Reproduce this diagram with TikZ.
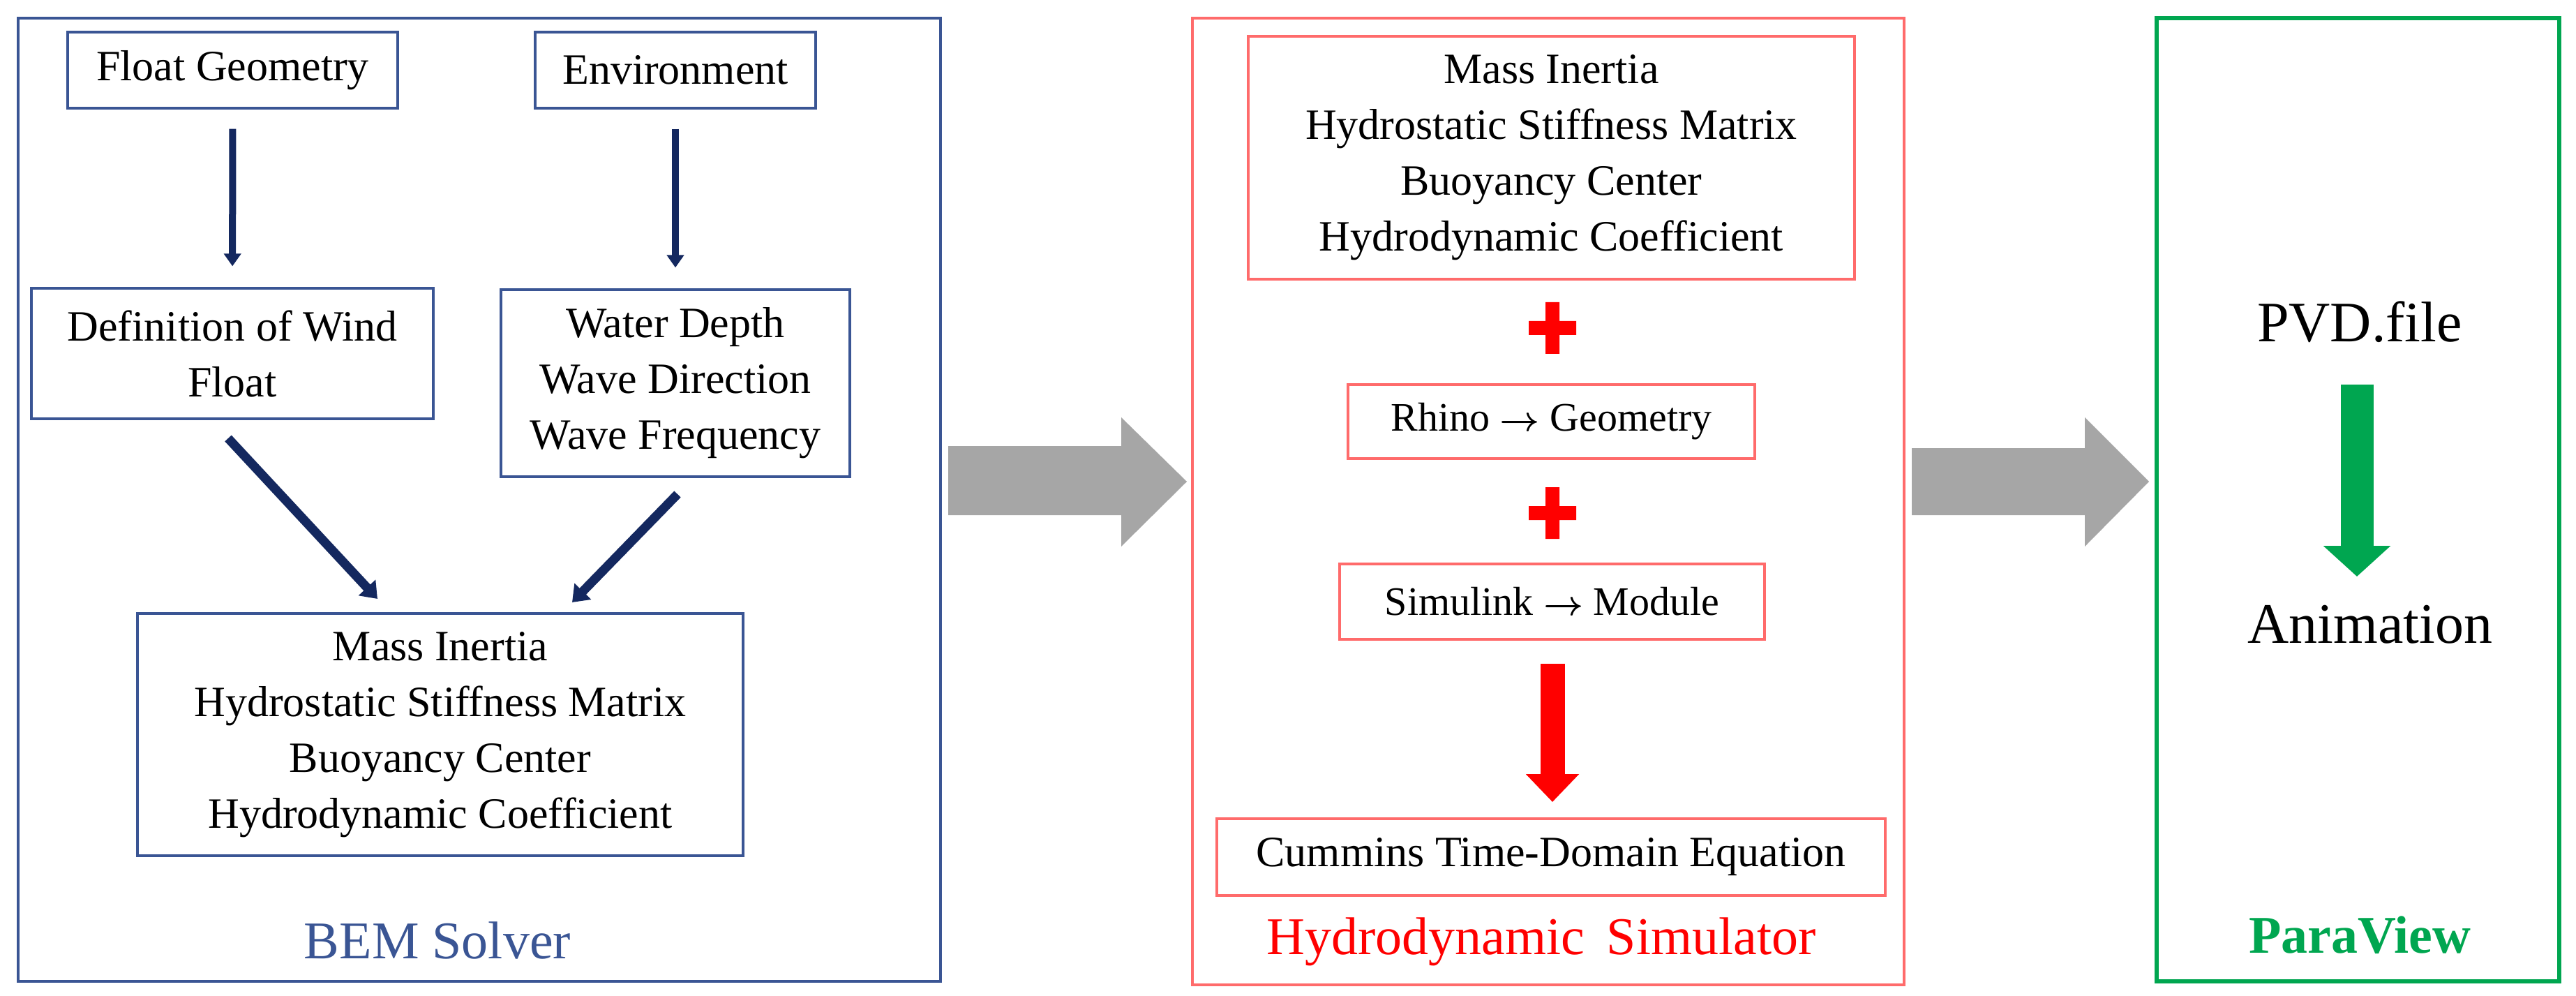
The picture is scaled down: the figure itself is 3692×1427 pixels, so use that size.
\documentclass[tikz,border=0pt]{standalone}
\usepackage{fontspec}
\setmainfont{Liberation Serif}
\usetikzlibrary{positioning,arrows.meta}
\definecolor{bemblue}{HTML}{3A5594}
\definecolor{navy}{HTML}{14285F}
\definecolor{simred}{HTML}{FF6B6B}
\definecolor{pvgreen}{HTML}{00A650}
\definecolor{blockgray}{HTML}{A6A6A6}
\begin{document}
\begin{tikzpicture}
[x=0.5pt, y=-0.5pt,
 bembox/.style={draw=bemblue, line width=1.6pt, align=center, inner sep=0pt,
   font=\fontsize{31}{40}\selectfont},
 simbox/.style={draw=simred, line width=1.6pt, align=center, inner sep=0pt,
   font=\fontsize{31}{40}\selectfont},
 frame/.style={line width=2pt},
 flow/.style={navy, line width=5pt, -{Triangle[width=12pt,length=9pt]}},
 thick flow/.style={navy, line width=6.5pt, -{Triangle[width=16pt,length=11pt]}},
 title/.style={font=\fontsize{38}{44}\selectfont}]
\useasboundingbox (0,0) rectangle (3692,1427);

% frames
\draw[frame, bemblue] (26,26) rectangle (1348,1406);
\draw[frame, simred] (1709,26) rectangle (2729,1411);
\draw[frame, pvgreen, line width=3pt] (3091,26) rectangle (3668,1406);

% BEM solver
\node[bembox, minimum width=236.5pt, minimum height=54.5pt] (fgeo) at (333.5,100.5) {Float Geometry};
\node[bembox, minimum width=201pt, minimum height=54.5pt] (env) at (968,100.5) {Environment};
\node[bembox, minimum width=288pt, minimum height=93.5pt] (wfloat) at (333,506.5) {Definition of Wind\\Float};
\node[bembox, minimum width=250pt, minimum height=134pt] (water) at (968,549) {Water Depth\\Wave Direction\\Wave Frequency};
\node[bembox, minimum width=434pt, minimum height=173.5pt] (coef) at (631,1052.5) {Mass Inertia\\Hydrostatic Stiffness Matrix\\Buoyancy Center\\Hydrodynamic Coefficient};
\node[title, text=bemblue] (bem) at (627,1347) {BEM Solver};

\coordinate (wf out) at (327,628);
\coordinate (coef in1) at (541,858);
\coordinate (wa out) at (971,708);
\coordinate (coef in2) at (820,863);
\draw[flow, shorten <=14pt, shorten >=15pt] (fgeo) -- (wfloat);
\draw[flow, shorten <=14pt, shorten >=15pt] (env) -- (water.north);
\draw[thick flow] (wf out) -- (coef in1);
\draw[thick flow] (wa out) -- (coef in2);

% block arrows
\fill[blockgray] (1359,639) -- (1607,639) -- (1607,598) -- (1701,690) -- (1607,783)
  -- (1607,738) -- (1359,738) -- cycle;
\fill[blockgray] (2740,642) -- (2988,642) -- (2988,598) -- (3080,690) -- (2988,783)
  -- (2988,738) -- (2740,738) -- cycle;

% hydrodynamic simulator
\node[simbox, minimum width=434.5pt, minimum height=174pt] (hcoef) at (2223.5,226) {Mass Inertia\\Hydrostatic Stiffness Matrix\\Buoyancy Center\\Hydrodynamic Coefficient};
\node[simbox, minimum width=291.5pt, minimum height=53pt, font=\fontsize{29}{36}\selectfont] (rhino) at (2223.5,604) {Rhino {\boldmath$\rightarrow$} Geometry};
\node[simbox, minimum width=304.5pt, minimum height=54pt, font=\fontsize{29}{36}\selectfont] (simu) at (2224.5,862) {Simulink {\boldmath$\rightarrow$} Module};
\node[simbox, minimum width=479pt, minimum height=55pt] (cummins) at (2223,1228) {Cummins Time-Domain Equation};
\node[title, text=red] (hsim) at (2209,1349) {Hydrodynamic\, Simulator};

\foreach \cy in {470,735}
  \fill[red] (2191,\cy-10) rectangle (2259,\cy+10) (2215,\cy-37) rectangle (2235,\cy+37);
\coordinate (red top) at (2225,951);
\coordinate (red tip) at (2225,1149);
\draw[red, line width=17.5pt, -{Triangle[width=37pt,length=20pt]}] (red top) -- (red tip);

% paraview
\node[font=\fontsize{41}{48}\selectfont] (pvd) at (3382,461) {PVD.file};
\node[font=\fontsize{41}{48}\selectfont] (anim) at (3397,895) {Animation};
\coordinate (gtop) at (3378,551);
\coordinate (gtip) at (3378,826);
\draw[pvgreen, line width=23.5pt, -{Triangle[width=47pt,length=22pt]}] (gtop) -- (gtip);
\node[font=\bfseries\fontsize{38}{44}\selectfont, text=pvgreen] (pview) at (3382,1340) {ParaView};
\end{tikzpicture}
\end{document}
